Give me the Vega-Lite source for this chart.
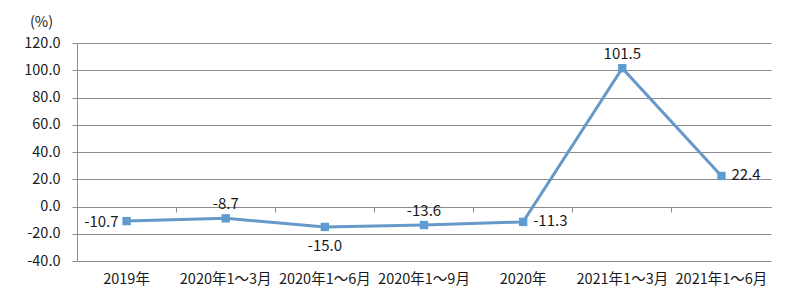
{
  "$schema": "https://vega.github.io/schema/vega-lite/v6.json",
  "width": 694,
  "height": 218,
  "autosize": "none",
  "padding": {"left": 77, "top": 43, "right": 29, "bottom": 44},
  "background": "white",
  "config": {
    "view": {"stroke": null},
    "font": "Noto Sans CJK SC",
    "locale": {"number": {"decimal": ".", "thousands": ",", "grouping": [3], "currency": ["", ""], "minus": "-"}},
    "axis": {"labelFont": "Noto Sans CJK SC", "labelFontSize": 14.5, "labelColor": "#1a1a1a", "titleFont": "Noto Sans CJK SC"}
  },
  "data": {
    "values": [
      {"period": "2019年", "value": -10.7, "pos": "left"},
      {"period": "2020年1～3月", "value": -8.7, "pos": "above"},
      {"period": "2020年1～6月", "value": -15.0, "pos": "below"},
      {"period": "2020年1～9月", "value": -13.6, "pos": "above"},
      {"period": "2020年", "value": -11.3, "pos": "right"},
      {"period": "2021年1～3月", "value": 101.5, "pos": "above"},
      {"period": "2021年1～6月", "value": 22.4, "pos": "right"}
    ]
  },
  "encoding": {
    "x": {
      "field": "period", "type": "nominal", "sort": null,
      "scale": {"type": "band", "paddingInner": 0, "paddingOuter": 0},
      "axis": null
    },
    "y": {
      "field": "value", "type": "quantitative",
      "scale": {"domain": [-40, 120], "nice": false, "zero": false},
      "axis": {
        "values": [-40, -20, 0, 20, 40, 60, 80, 100, 120],
        "format": ".1f", "labelOverlap": false,
        "title": "(%)", "titleAngle": 0, "titleX": -36, "titleY": -21,
        "titleAlign": "center", "titleBaseline": "middle", "titleFontSize": 14.5, "titleFontWeight": "normal", "titleColor": "#1a1a1a",
        "grid": true, "gridColor": "#8c8c8c", "gridWidth": 1,
        "domainColor": "#8c8c8c", "tickColor": "#8c8c8c", "tickSize": 5,
        "labelPadding": 12
      }
    }
  },
  "layer": [
    {
      "mark": {"type": "line", "color": "#6699C9", "strokeWidth": 3},
      "encoding": {
        "x": {
          "field": "period", "type": "nominal", "sort": null,
          "axis": {"orient": "bottom", "title": null, "labelAngle": 0, "domain": false, "ticks": false, "labelPadding": 11, "grid": false}
        }
      }
    },
    {
      "mark": {"type": "point", "shape": "square", "filled": true, "color": "#5F9BCF", "size": 70, "opacity": 1},
      "encoding": {
        "x": {
          "field": "period", "type": "nominal", "sort": null,
          "axis": {"orient": "bottom", "offset": -54, "title": null, "labels": false, "domain": true, "domainColor": "#8c8c8c", "ticks": true, "tickColor": "#8c8c8c", "tickSize": 5, "bandPosition": 0, "grid": false}
        }
      }
    },
    {
      "transform": [{"filter": "datum.pos == 'above'"}],
      "mark": {"type": "text", "fontSize": 15, "color": "#1a1a1a", "dy": -14},
      "encoding": {"text": {"field": "value", "type": "quantitative", "format": ".1f"}}
    },
    {
      "transform": [{"filter": "datum.pos == 'below'"}],
      "mark": {"type": "text", "fontSize": 15, "color": "#1a1a1a", "dy": 19},
      "encoding": {"text": {"field": "value", "type": "quantitative", "format": ".1f"}}
    },
    {
      "transform": [{"filter": "datum.pos == 'left'"}],
      "mark": {"type": "text", "fontSize": 15, "color": "#1a1a1a", "align": "right", "dx": -8, "dy": 1},
      "encoding": {"text": {"field": "value", "type": "quantitative", "format": ".1f"}}
    },
    {
      "transform": [{"filter": "datum.pos == 'right'"}],
      "mark": {"type": "text", "fontSize": 15, "color": "#1a1a1a", "align": "left", "dx": 10, "dy": -1},
      "encoding": {"text": {"field": "value", "type": "quantitative", "format": ".1f"}}
    }
  ],
  "resolve": {"axis": {"x": "independent"}}
}
